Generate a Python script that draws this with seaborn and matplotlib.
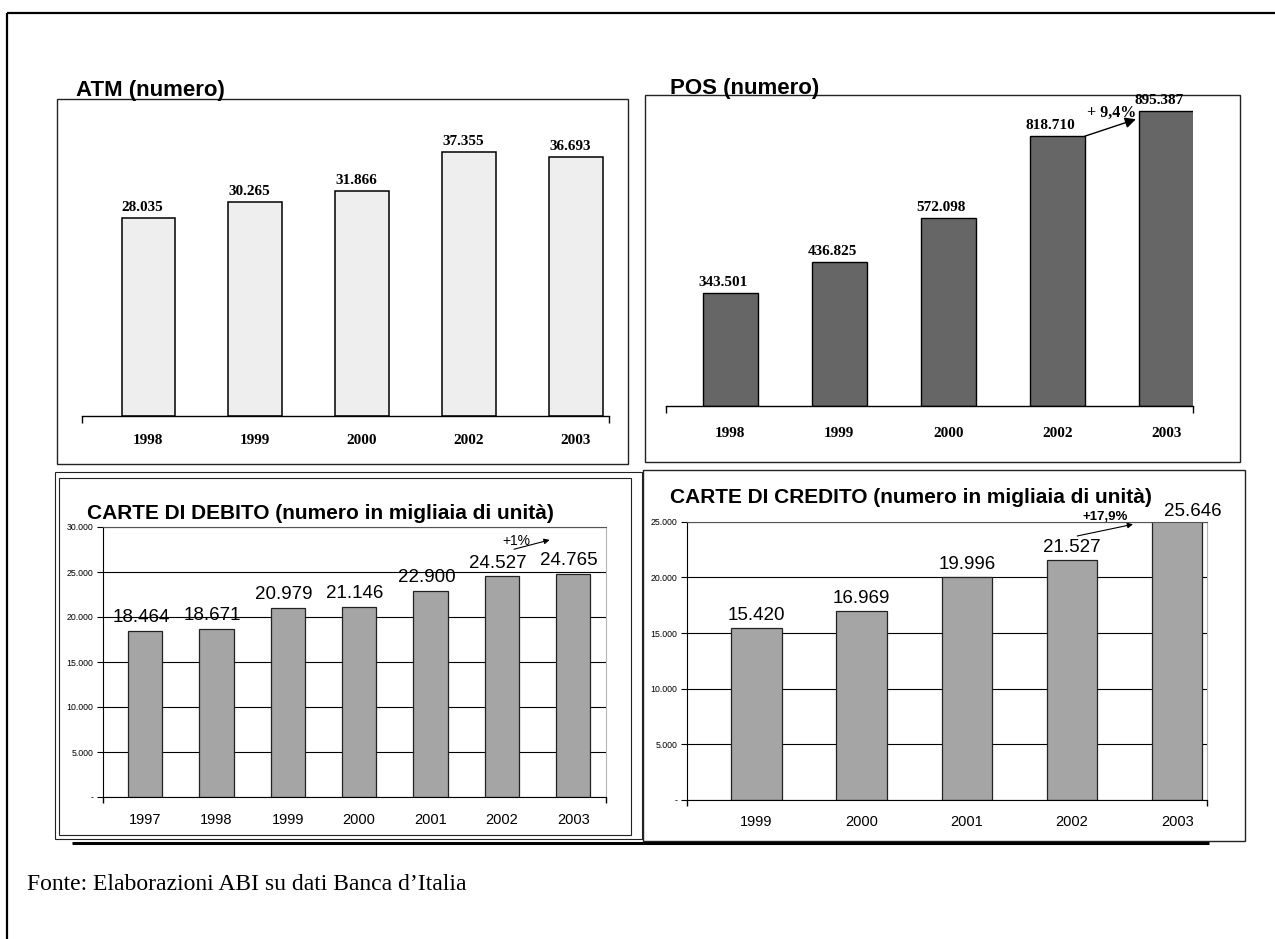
import matplotlib
matplotlib.use("Agg")
import matplotlib.pyplot as plt
from matplotlib.patches import Rectangle
import pandas as pd
import seaborn as sns

# ---- data -------------------------------------------------------------
atm_years = ["1998", "1999", "2000", "2002", "2003"]
atm_values = [28035, 30265, 31866, 37355, 36693]

pos_years = ["1998", "1999", "2000", "2002", "2003"]
pos_values = [343501, 436825, 572098, 818710, 895387]

debit_years = ["1997", "1998", "1999", "2000", "2001", "2002", "2003"]
debit_values = [18464, 18671, 20979, 21146, 22900, 24527, 24765]

credit_years = ["1999", "2000", "2001", "2002", "2003"]
credit_values = [15420, 16969, 19996, 21527, 25646]

debit_ticks = [0, 5000, 10000, 15000, 20000, 25000, 30000]
credit_ticks = [0, 5000, 10000, 15000, 20000, 25000]

pos_growth = "+ 9,4%"
debit_growth = "+1%"
credit_growth = "+17,9%"

titles = {
    "atm": "ATM (numero)",
    "pos": "POS (numero)",
    "debit": "CARTE DI DEBITO (numero in migliaia di unità)",
    "credit": "CARTE DI CREDITO (numero in migliaia di unità)",
}
source_note = "Fonte: Elaborazioni ABI su dati Banca d\u2019Italia"

# ---- style ------------------------------------------------------------
sns.set_style("white")
plt.rcParams["font.family"] = ["Liberation Sans", "DejaVu Sans"]
for key in ("text.color", "axes.labelcolor", "xtick.color", "ytick.color"):
    plt.rcParams[key] = "black"
SANS = "Liberation Sans"
SERIF = "Liberation Serif"

W, H, DPI = 1275, 939, 100
fig = plt.figure(figsize=(W / DPI, H / DPI), dpi=DPI)
fig.patch.set_facecolor("white")


def it_num(v):
    """Italian thousands separator; zero shown as a dash."""
    return f"{v:,}".replace(",", ".") if v else "-"


def px_axes(left, top, right, bottom, z=1):
    ax = fig.add_axes([left / W, 1 - bottom / H, (right - left) / W, (bottom - top) / H], zorder=z)
    ax.patch.set_alpha(0)
    return ax


def draw_bars(ax, years, values, color, edge, lw, width):
    df = pd.DataFrame({"anno": years, "valore": values})
    sns.barplot(data=df, x="anno", y="valore", order=years, ax=ax, color=color,
                edgecolor=edge, linewidth=lw, width=width, saturation=1, errorbar=None)
    ax.set_xlabel("")
    ax.set_ylabel("")


def end_ticks(ax, length):
    lo, hi = ax.get_xlim()
    ax.set_xticks([lo, hi], minor=True)
    ax.tick_params(axis="x", which="minor", bottom=True, length=length, width=1,
                   direction="out", color="black")


# page layer: frames, titles, footnote (pixel coordinates)
bg = fig.add_axes([0, 0, 1, 1], zorder=0)
bg.set_xlim(0, W)
bg.set_ylim(H, 0)
bg.axis("off")

bg.plot([7, W], [13, 13], color="black", lw=1.6, solid_capstyle="butt")
bg.plot([7, 7], [13, H], color="black", lw=1.6, solid_capstyle="butt")

bg.add_patch(Rectangle((57, 99), 571, 365, fill=False, ec="#222222", lw=1.0))
bg.add_patch(Rectangle((645, 95), 595, 367, fill=False, ec="#222222", lw=1.0))
bg.add_patch(Rectangle((55, 472), 587, 367, fill=False, ec="#222222", lw=0.8))
bg.add_patch(Rectangle((59, 478), 572, 357, fill=False, ec="#222222", lw=0.8))
bg.add_patch(Rectangle((643, 470), 602, 371, fill=False, ec="#222222", lw=1.0))
bg.plot([72, 1209], [843, 843], color="black", lw=2.2, solid_capstyle="butt")

title_kw = dict(fontfamily=SANS, fontweight="bold", va="baseline", ha="left", color="black")
bg.text(76, 96, titles["atm"], fontsize=16, **title_kw)
bg.text(670, 94, titles["pos"], fontsize=16, **title_kw)
bg.text(87, 519, titles["debit"], fontsize=15, **title_kw)
bg.text(670, 503, titles["credit"], fontsize=15, **title_kw)
bg.text(27, 884, source_note, fontfamily=SERIF, fontsize=17, va="center", ha="left",
        color="black")

serif_bold = dict(fontfamily=SERIF, fontweight="bold", fontsize=11, color="black")

# ---- ATM --------------------------------------------------------------
ax1 = px_axes(82, 119.7, 609, 415.7, z=2)
draw_bars(ax1, atm_years, atm_values, "#eeeeee", "black", 1.1, 0.5)
ax1.set_xlim(-0.62, 4.31)
ax1.set_ylim(0, 42000)
for s in ("left", "top", "right"):
    ax1.spines[s].set_visible(False)
ax1.spines["bottom"].set_color("black")
ax1.spines["bottom"].set_linewidth(1.0)
ax1.set_yticks([])
ax1.tick_params(axis="x", which="major", length=0, pad=13)
end_ticks(ax1, 5)
for lab in ax1.get_xticklabels():
    lab.set(**serif_bold)
for i, v in enumerate(atm_values):
    ax1.annotate(it_num(v), xy=(i, v), xytext=(-4, 5.3), textcoords="offset points",
                 ha="center", va="baseline", **serif_bold)

# ---- POS --------------------------------------------------------------
ax2 = px_axes(666, 93, 1192.6, 406, z=2)
draw_bars(ax2, pos_years, pos_values, "#666666", "black", 1.0, 0.5)
ax2.set_xlim(-0.59, 4.24)
ax2.set_ylim(0, 950000)
for s in ("left", "top", "right"):
    ax2.spines[s].set_visible(False)
ax2.spines["bottom"].set_color("black")
ax2.spines["bottom"].set_linewidth(1.0)
ax2.set_yticks([])
ax2.tick_params(axis="x", which="major", length=0, pad=15)
end_ticks(ax2, 5)
for lab in ax2.get_xticklabels():
    lab.set(**serif_bold)
for i, v in enumerate(pos_values):
    ax2.annotate(it_num(v), xy=(i, v), xytext=(-5, 5), textcoords="offset points",
                 ha="center", va="baseline", **serif_bold)
# growth arrow between the last two years
ax2.annotate("", xy=(4 - 0.28, pos_values[4] - 25000), xytext=(3 + 0.25, pos_values[3]),
             arrowprops=dict(arrowstyle="-|>", color="black", lw=1.0, mutation_scale=16,
                             shrinkA=0, shrinkB=0))
ax2.text(3.5, (pos_values[3] + pos_values[4]) / 2 + 20000, pos_growth, ha="center",
         va="baseline", fontfamily=SERIF, fontweight="bold", fontsize=11.5, color="black")


# ---- grid-style panels ------------------------------------------------
def grid_panel(ax, years, values, ticks, xlim):
    draw_bars(ax, years, values, "#a5a5a5", "#222222", 0.9, 0.48)
    ax.set_xlim(*xlim)
    ax.set_ylim(ticks[0], ticks[-1])
    ax.set_axisbelow(True)
    ax.yaxis.grid(True, color="black", lw=0.8)
    ax.spines["left"].set_color("black")
    ax.spines["bottom"].set_color("black")
    ax.spines["top"].set_color("#555555")
    ax.spines["right"].set_color("#b5b5b5")
    for s in ax.spines.values():
        s.set_linewidth(0.8)
    ax.set_yticks(ticks)
    ax.set_yticklabels([it_num(t) for t in ticks], fontsize=6.3, fontfamily=SANS)
    ax.tick_params(axis="y", left=True, length=4, width=0.8, direction="out", pad=3,
                   colors="black")
    ax.tick_params(axis="x", which="major", length=0, labelsize=10.5, pad=11.5,
                   colors="black")
    end_ticks(ax, 4)


ax3 = px_axes(103, 527, 606, 797, z=2)
grid_panel(ax3, debit_years, debit_values, debit_ticks, (-0.59, 6.46))
for i, v in enumerate(debit_values):
    ax3.annotate(it_num(v), xy=(i, v), xytext=(-3, 6.3), textcoords="offset points",
                 ha="center", va="baseline", fontsize=13.5, fontfamily=SANS, color="black")
ax3.annotate("", xy=(5.67, debit_values[6] + 3800), xytext=(5.17, debit_values[5] + 3000),
             arrowprops=dict(arrowstyle="-|>", color="black", lw=0.8, mutation_scale=8,
                             shrinkA=0, shrinkB=0))
ax3.text(5.21, debit_values[5] + 3900, debit_growth, ha="center", va="center",
         fontsize=10, fontfamily=SANS, color="black")

ax4 = px_axes(687.3, 521.7, 1206.7, 800, z=2)
grid_panel(ax4, credit_years, credit_values, credit_ticks, (-0.656, 4.28))
ax4.tick_params(axis="x", which="major", pad=11)
top4 = credit_ticks[-1]
for i, v in enumerate(credit_values):
    dx = 11 if v > top4 else 0
    ax4.annotate(it_num(v), xy=(i, min(v, top4)), xytext=(dx, 6 if v <= top4 else 4),
                 textcoords="offset points", ha="center", va="baseline",
                 fontsize=13.5, fontfamily=SANS, color="black", annotation_clip=False)
ax4.annotate("", xy=(3.58, credit_values[3] + 3240), xytext=(3.05, credit_values[3] + 2190),
             arrowprops=dict(arrowstyle="-|>", color="black", lw=0.8, mutation_scale=8,
                             shrinkA=0, shrinkB=0), annotation_clip=False)
ax4.text(3.32, credit_values[3] + 3865, credit_growth, ha="center", va="center",
         fontsize=9.5, fontweight="bold", fontfamily=SANS, color="black", clip_on=False)

fig.savefig("out.png", dpi=DPI, facecolor="white")
